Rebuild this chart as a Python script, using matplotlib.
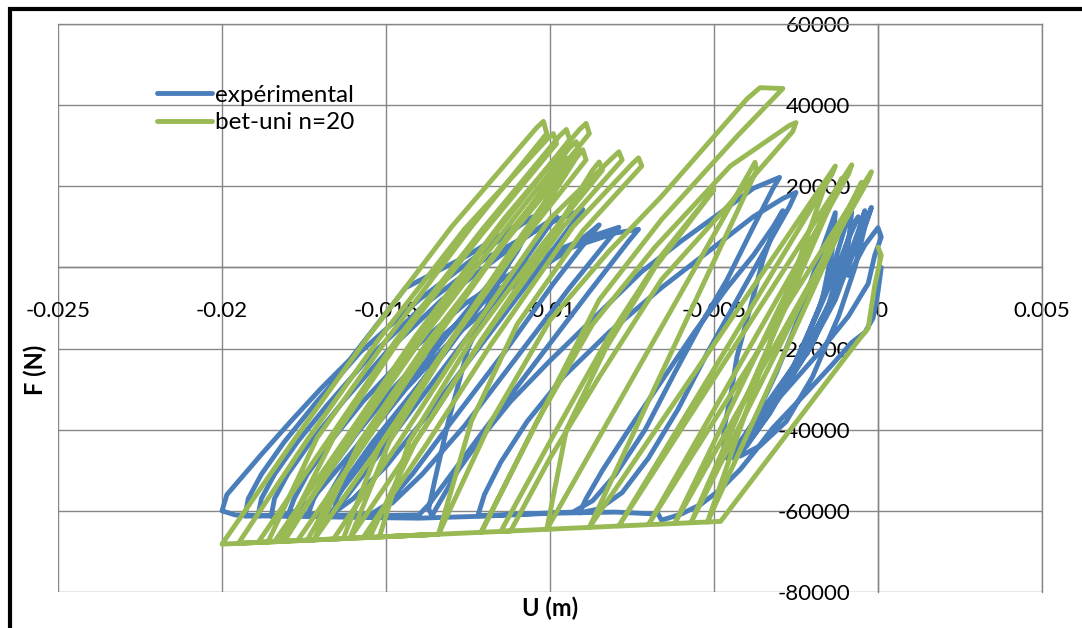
"""Cyclic push test: measured F-U loops against the bet-uni n=20 model."""

import matplotlib

matplotlib.use("Agg")
import matplotlib.pyplot as plt
from matplotlib.patches import Rectangle
from matplotlib.ticker import FuncFormatter, MultipleLocator

# (U [m], F [N]) vertices, in drawing order
experimental = [
    # monotonic branch to -20 mm
    (0.0001, 0), (0.0000, -6000), (-0.00015, -12500), (-0.0004, -16000),
    (-0.0008, -18500), (-0.0014, -24000), (-0.0022, -31000), (-0.0032, -39500),
    (-0.0037, -44800), (-0.0042, -49800), (-0.0048, -54700), (-0.0054, -58400),
    (-0.0060, -60800), (-0.0066, -62300), (-0.0067, -60800), (-0.0080, -60300),
    (-0.0100, -60600), (-0.0120, -61300), (-0.0140, -61800), (-0.0160, -61600),
    (-0.0180, -61300), (-0.0196, -61000), (-0.0200, -60000),
    # left group
    (-0.01985, -56000), (-0.0195, -52700), (-0.0188, -46100), (-0.0179, -37900),
    (-0.0170, -30000), (-0.0161, -22700), (-0.0144, -5000), (-0.0125, 3000),
    (-0.0108, 11500), (-0.0102, 13500),
    (-0.0105, 10600), (-0.0115, -500), (-0.0130, -15300), (-0.0146, -31300),
    (-0.0161, -46100), (-0.0170, -54700), (-0.0176, -59600), (-0.0181, -61000),
    (-0.0189, -61200),
    (-0.0188, -57000), (-0.0184, -51000), (-0.0177, -43000), (-0.0168, -34000),
    (-0.0155, -22000), (-0.0138, -9000), (-0.0120, 2000), (-0.0100, 11000),
    (-0.0090, 14300),
    (-0.0093, 11000), (-0.0104, -1000), (-0.0120, -18000), (-0.0137, -36000),
    (-0.0150, -49000), (-0.0160, -57000), (-0.0166, -60500), (-0.0180, -61300),
    (-0.0178, -57000), (-0.0174, -51000), (-0.0167, -43000), (-0.0157, -33000),
    (-0.0143, -21000), (-0.0126, -9000), (-0.0106, 1500), (-0.0088, 7500),
    (-0.0079, 9900),
    (-0.0082, 7000), (-0.0094, -5000), (-0.0110, -22000), (-0.0126, -39000),
    (-0.0139, -51000), (-0.0148, -58000), (-0.0154, -61000), (-0.0193, -61300),
    (-0.0192, -57000), (-0.0188, -51000), (-0.0181, -43000), (-0.0171, -33000),
    (-0.0158, -21000), (-0.0140, -8000), (-0.0122, 3000), (-0.0108, 11000),
    (-0.0104, 12500),
    (-0.0107, 9000), (-0.0117, -3000), (-0.0131, -19000), (-0.0146, -36000),
    (-0.0158, -49000), (-0.0166, -57500), (-0.0171, -60800), (-0.0185, -61300),
    (-0.0184, -57000), (-0.0180, -51000), (-0.0173, -43000), (-0.0163, -33000),
    (-0.0150, -21000), (-0.0133, -8000), (-0.0115, 3000), (-0.0102, 10500),
    (-0.0098, 12500),
    (-0.0101, 9500), (-0.0111, -2000), (-0.0126, -18000), (-0.0142, -35000),
    (-0.0154, -48000), (-0.0162, -56500), (-0.0167, -60500), (-0.0170, -61300),
    (-0.0168, -57000), (-0.0163, -50000), (-0.0155, -41000), (-0.0144, -30000),
    (-0.0129, -17000), (-0.0112, -5000), (-0.0095, 4000), (-0.0088, 8500),
    (-0.0085, 10500),
    (-0.0088, 7500), (-0.0099, -4000), (-0.0114, -21000), (-0.0130, -38000),
    (-0.0142, -51000), (-0.0150, -58500), (-0.0155, -61000), (-0.0174, -61300),
    (-0.0172, -57000), (-0.0167, -50000), (-0.0159, -41000), (-0.0148, -30000),
    (-0.0133, -17000), (-0.0115, -5000), (-0.0095, 4500), (-0.0080, 8500),
    (-0.0073, 9400),
    (-0.0076, 6500), (-0.0088, -6000), (-0.0104, -23000), (-0.0120, -40000),
    (-0.0131, -52000), (-0.0137, -58500), (-0.0140, -61000), (-0.0166, -61400),
    (-0.0165, -57000), (-0.0161, -51000), (-0.0154, -43000), (-0.0144, -33000),
    (-0.0132, -21000), (-0.0120, -8000), (-0.0110, 4000), (-0.0105, 11800),
    (-0.0107, 9000), (-0.0116, -4000), (-0.0125, -20000), (-0.0131, -38000),
    (-0.0135, -52000), (-0.0137, -59500), (-0.0136, -61200),
    # middle group
    (-0.0133, -57000), (-0.0128, -50000), (-0.0121, -42000), (-0.0112, -33000),
    (-0.0100, -23000), (-0.0086, -12000), (-0.0072, -1000), (-0.0060, 6500),
    (-0.0048, 13500), (-0.0038, 19500), (-0.0030, 22200),
    (-0.0032, 19500), (-0.0038, 10000), (-0.0046, -3000), (-0.0054, -14000),
    (-0.0062, -26000), (-0.0071, -40000), (-0.0080, -51000), (-0.0087, -57500),
    (-0.0093, -60300), (-0.0122, -61200),
    (-0.0120, -56000), (-0.0115, -48000), (-0.0107, -38000), (-0.0096, -27000),
    (-0.0082, -16000), (-0.0066, -5000), (-0.0050, 5000), (-0.0038, 12500),
    (-0.0029, 17000), (-0.0025, 18500),
    (-0.0027, 15000), (-0.0034, 5000), (-0.0043, -8000), (-0.0052, -21000),
    (-0.0061, -35000), (-0.0070, -47000), (-0.0078, -55500), (-0.0085, -59500),
    (-0.0091, -60500),
    (-0.0089, -57000), (-0.0084, -50000), (-0.0076, -40000), (-0.0066, -28000),
    (-0.0056, -16000), (-0.0046, -5000), (-0.0038, 3000), (-0.0032, 10000),
    (-0.0029, 14000),
    (-0.0031, 11000), (-0.0035, 2000), (-0.0039, -10000), (-0.0043, -22000),
    (-0.0045, -32000), (-0.0047, -40000), (-0.0047, -45000), (-0.0045, -46500),
    # right group
    (-0.0043, -44000), (-0.0036, -36000), (-0.0022, -20000), (-0.0012, -5000),
    (-0.0005, 8000), (-0.0002, 14800),
    (-0.0004, 10000), (-0.0007, 0), (-0.0012, -12000), (-0.0020, -27000),
    (-0.0028, -38000), (-0.0036, -44000), (-0.0042, -46500),
    (-0.0040, -43000), (-0.0032, -34000), (-0.0020, -19000), (-0.0012, -4000),
    (-0.0009, 6000), (-0.0008, 13800),
    (-0.0010, 10000), (-0.0013, 2000), (-0.0018, -10000), (-0.0026, -25000),
    (-0.0034, -37000), (-0.0040, -44000), (-0.0044, -47000),
    (-0.0042, -44500), (-0.0035, -36500), (-0.0024, -22000), (-0.0017, -8000),
    (-0.0014, 4000), (-0.0013, 13500),
    (-0.0015, 9000), (-0.0019, 0), (-0.0024, -12000), (-0.0031, -26000),
    (-0.0038, -38000), (-0.0043, -45000), (-0.0046, -47000),
    (-0.0040, -42000), (-0.0031, -33000), (-0.0021, -20000), (-0.0013, -8000),
    (-0.0008, 3000), (-0.0005, 11000), (-0.0004, 14000),
    (-0.0006, 9000), (-0.0010, 0), (-0.0016, -11000), (-0.0025, -25000),
    (-0.0033, -36000), (-0.0040, -43500), (-0.0045, -46500),
    (-0.0041, -43500), (-0.0033, -35000), (-0.0023, -22000), (-0.0015, -9000),
    (-0.0011, 2000), (-0.0008, 10000), (-0.0006, 12500),
    (-0.0009, 7000), (-0.0014, -3000), (-0.0021, -16000), (-0.0029, -30000),
    (-0.0037, -40500), (-0.0043, -46000), (-0.0046, -47000),
    (-0.0041, -43000), (-0.0030, -32000), (-0.0018, -21000), (-0.0009, -12000),
    (-0.0003, -4000), (-0.0001, 3000), (0.0001, 7500), (0.0000, 9800),
    (-0.0004, 5500), (-0.0009, -2000),
]

bet_uni = [
    # monotonic branch and lower envelope
    (0.0000, 5000), (0.0001, 3000), (-0.0001, -4500), (-0.0003, -15000),
    (-0.0006, -18000), (-0.0048, -62600), (-0.0200, -68200),
    # left group
    (-0.0178, -42500), (-0.0156, -17700), (-0.0130, 10000), (-0.0104, 34500),
    (-0.0102, 36000),
    (-0.0101, 33000), (-0.0124, 10000), (-0.0150, -18000), (-0.0171, -42000),
    (-0.0186, -67700), (-0.0189, -67800),
    (-0.0168, -43000), (-0.0147, -18000), (-0.0121, 9000), (-0.0097, 32500),
    (-0.0095, 34000),
    (-0.0094, 31500), (-0.0117, 8000), (-0.0141, -18000), (-0.0162, -43000),
    (-0.0181, -67500), (-0.0184, -67600),
    (-0.0163, -43000), (-0.0141, -17000), (-0.0114, 12000), (-0.0091, 34000),
    (-0.0089, 35500),
    (-0.0088, 33000), (-0.0111, 10000), (-0.0136, -18000), (-0.0157, -43000),
    (-0.0174, -67200), (-0.0177, -67350),
    (-0.0157, -44000), (-0.0137, -20000), (-0.0115, 5000), (-0.0097, 25000),
    (-0.0095, 27000),
    (-0.0094, 25000), (-0.0112, 4000), (-0.0132, -20000), (-0.0152, -44000),
    (-0.0163, -66800), (-0.0166, -66940),
    (-0.0146, -43000), (-0.0125, -17000), (-0.0100, 12000), (-0.0081, 27000),
    (-0.0079, 28500),
    (-0.0078, 26500), (-0.0096, 10000), (-0.0120, -17000), (-0.0141, -43000),
    (-0.0155, -66550), (-0.0157, -66620),
    (-0.0138, -44000), (-0.0118, -19000), (-0.0093, 10000), (-0.0075, 25500),
    (-0.0073, 27000),
    (-0.0072, 25000), (-0.0090, 9000), (-0.0110, -14000), (-0.0124, -38000),
    (-0.0134, -65770), (-0.0195, -68000),
    (-0.0174, -42500), (-0.0152, -17500), (-0.0126, 9500), (-0.0101, 31500),
    (-0.0099, 33000),
    (-0.0098, 30500), (-0.0121, 8000), (-0.0146, -18000), (-0.0166, -42000),
    (-0.0182, -67550),
    (-0.0161, -43000), (-0.0139, -17500), (-0.0114, 9000), (-0.0094, 29500),
    (-0.0092, 31000),
    (-0.0091, 28500), (-0.0113, 7000), (-0.0137, -18000), (-0.0158, -43000),
    (-0.0172, -67200),
    (-0.0151, -43000), (-0.0130, -18000), (-0.0107, 8000), (-0.0092, 27000),
    (-0.0090, 29000),
    (-0.0089, 26500), (-0.0109, 6000), (-0.0130, -18000), (-0.0149, -43000),
    (-0.0161, -66800),
    (-0.0141, -43000), (-0.0121, -18000), (-0.0100, 7000), (-0.0087, 24000),
    (-0.0085, 26000),
    (-0.0084, 24000), (-0.0102, 6000), (-0.0124, -18000), (-0.0143, -43000),
    (-0.0152, -66400), (-0.0134, -65770),
    # middle group
    (-0.0118, -38000), (-0.0100, -13000), (-0.0082, 4000), (-0.0066, 17500),
    (-0.0040, 41500), (-0.0036, 44300), (-0.0029, 44100),
    (-0.0043, 32300), (-0.0066, 11800), (-0.0085, -8000), (-0.0102, -35000),
    (-0.0121, -65290),
    (-0.0104, -38000), (-0.0087, -14000), (-0.0068, 5000), (-0.0045, 25000),
    (-0.0027, 35000), (-0.0025, 35700),
    (-0.0026, 33500), (-0.0046, 15000), (-0.0066, -3000), (-0.0085, -27000),
    (-0.0100, -47000), (-0.0112, -64950), (-0.0115, -65070),
    (-0.0098, -40000), (-0.0082, -17000), (-0.0066, 3000), (-0.0050, 19200),
    (-0.0052, 17000), (-0.0068, 0), (-0.0083, -20000), (-0.0095, -40000),
    (-0.0101, -64600),
    # right group
    (-0.00375, 25900), (-0.0037, 24000), (-0.0088, -64070),
    (-0.0013, 25000), (-0.0014, 23000), (-0.0079, -63700),
    (-0.0008, 25300), (-0.0009, 23000), (-0.0070, -63400),
    (-0.0002, 23600), (-0.0003, 21500), (-0.0062, -63100),
    (-0.0011, 22000), (-0.0012, 20000), (-0.0057, -62900),
    (-0.0005, 21000), (-0.0006, 19000), (-0.0052, -62750),
    (-0.0016, 20500),
]

series_labels = ["expérimental", "bet-uni n=20"]
series_colors = ["#4A7EBB", "#98B954"]

GRID = "#868686"

plt.rcParams["font.family"] = ["Lato", "DejaVu Sans"]
plt.rcParams["axes.unicode_minus"] = False

fig = plt.figure(figsize=(10.82, 6.28), dpi=100)
ax = fig.add_axes([58 / 1082, 1 - 592 / 628, 984 / 1082, 568 / 628])

for pts, label, color in zip([experimental, bet_uni], series_labels, series_colors):
    u, f = zip(*pts)
    ax.plot(u, f, color=color, lw=3.5, solid_joinstyle="round",
            solid_capstyle="round", label=label, zorder=3)

ax.set_xlim(-0.025, 0.005)
ax.set_ylim(-80000, 60000)
ax.xaxis.set_major_locator(MultipleLocator(0.005))
ax.yaxis.set_major_locator(MultipleLocator(20000))
ax.xaxis.set_major_formatter(FuncFormatter(lambda v, _: f"{round(v, 4):g}"))
ax.yaxis.set_major_formatter(FuncFormatter(lambda v, _: f"{round(v):d}"))
ax.grid(True, color=GRID, lw=1.0, zorder=0)
ax.set_axisbelow(True)

for side in ["top", "right", "left", "bottom"]:
    ax.spines[side].set_color(GRID)
    ax.spines[side].set_linewidth(1.0)
ax.spines["left"].set_position(("data", 0))
ax.spines["bottom"].set_position(("data", 0))
ax.tick_params(axis="x", length=0, pad=24, labelsize=16)
ax.tick_params(axis="y", length=0, pad=20, labelsize=16)

ax.legend(loc="upper left", bbox_to_anchor=(0.1006, 0.893), frameon=False,
          fontsize=17.5, handlelength=2.26, handletextpad=0.12,
          labelspacing=0.26, borderpad=0, borderaxespad=0)

fig.text(550 / 1082, 1 - 608 / 628, "U (m)", ha="center", va="center",
         fontsize=17, fontweight="bold")
fig.text(35 / 1082, 1 - 370 / 628, "F (N)", ha="center", va="center",
         fontsize=17, fontweight="bold", rotation=90)

fig.add_artist(Rectangle((10 / 1082, -0.1), 1.2, 1.1 - 9 / 628,
                         transform=fig.transFigure, fill=False,
                         edgecolor="black", lw=3, clip_on=False))

fig.savefig("out.png", dpi=100)
